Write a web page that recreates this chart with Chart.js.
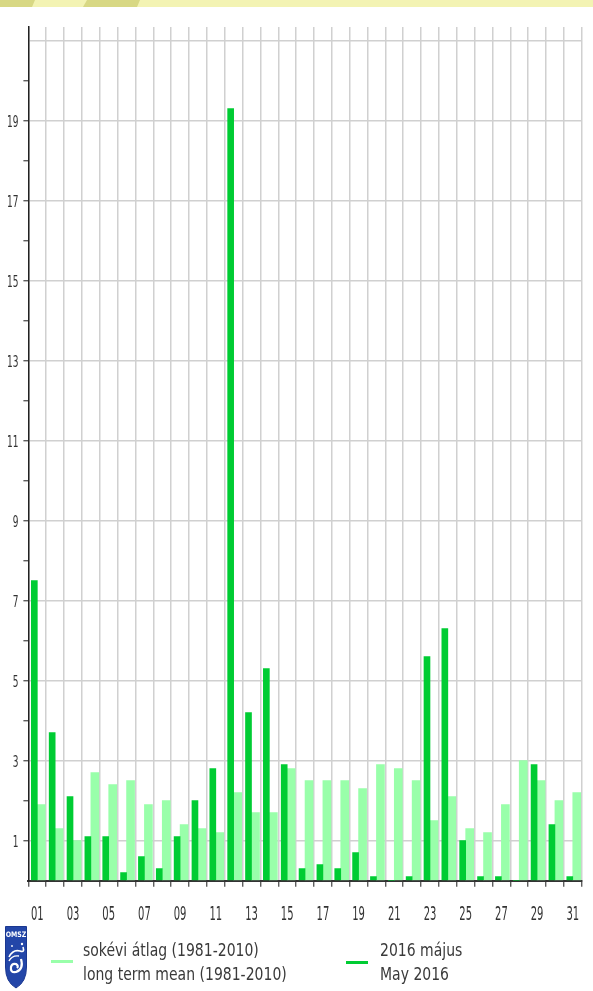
<!DOCTYPE html>
<html>
<head>
<meta charset="utf-8">
<script src="https://cdn.jsdelivr.net/npm/chart.js@4.4.1/dist/chart.umd.min.js"></script>
<style>
  html, body { margin: 0; padding: 0; background: #fff; }
  #wrap { position: relative; width: 593px; height: 991px; overflow: hidden; background: #fff; }
  #c { position: absolute; left: 0; top: 0; }
  .leg { position: absolute; font-family: "DejaVu Sans", Verdana, sans-serif; font-size: 14px;
         line-height: 17.6px; color: #3a3a3a; white-space: nowrap;
         transform: scaleY(1.32); transform-origin: 0 0; }
  .swatch { position: absolute; height: 3px; width: 22px; }
  #banner { position: absolute; left: 0; top: 0; }
  #logo { position: absolute; left: 4px; top: 925px; }
</style>
</head>
<body>
<div id="wrap">
  <svg id="banner" width="593" height="7" viewBox="0 0 593 7">
    <rect x="0" y="0" width="593" height="7" fill="#f3f3b3"/>
    <polygon points="0,0 35,0 32,7 0,7" fill="#d8d884"/>
    <polygon points="87,0 140,0 137,7 83,7" fill="#d8d884"/>
  </svg>
  <canvas id="c" width="593" height="991"></canvas>
  <svg id="logo" width="26" height="64" viewBox="0 0 26 64">
    <path d="M1.5,1.5 H22.5 V42 Q22.5,57 12,63 Q1.5,57 1.5,42 Z" fill="#2346a8" stroke="#1a3790" stroke-width="1"/>
    <text x="12" y="12" text-anchor="middle" font-family="DejaVu Sans, sans-serif" font-weight="bold" font-size="6.3" fill="#ffffff" transform="scale(1,1.2) translate(0,-2)">OMSZ</text>
    <path d="M5,32 Q9,24 16,26 Q21,28 19,22" fill="none" stroke="#ffffff" stroke-width="1.6"/>
    <path d="M17,34 Q20,44 12,47 Q6,48 7,42 Q8,38 12,39 Q15,41 13,43" fill="none" stroke="#ffffff" stroke-width="2.2"/>
    <path d="M5,36 Q8,30 15,31" fill="none" stroke="#ffffff" stroke-width="1.4"/>
    <circle cx="18" cy="19" r="1.2" fill="#ffffff"/>
    <circle cx="8" cy="21" r="0.9" fill="#ffffff"/>
  </svg>
  <div class="swatch" style="left:51px; top:960px; background:#99ffaa;"></div>
  <div class="leg" style="left:83px; top:938.7px;">sokévi átlag (1981-2010)<br>long term mean (1981-2010)</div>
  <div class="swatch" style="left:346px; top:961px; background:#00cc33;"></div>
  <div class="leg" style="left:380px; top:938.7px;">2016 május<br>May 2016</div>
</div>
<script>
// ---- data ----
const days = ['01','02','03','04','05','06','07','08','09','10','11','12','13','14','15','16',
              '17','18','19','20','21','22','23','24','25','26','27','28','29','30','31'];
const may2016 = [7.5,3.7,2.1,1.1,1.1,0.2,0.6,0.3,1.1,2.0,2.8,19.3,4.2,5.3,2.9,0.3,
                 0.4,0.3,0.7,0.1,0,0.1,5.6,6.3,1.0,0.1,0.1,0,2.9,1.4,0.1];
const longTermMean = [1.9,1.3,1.0,2.7,2.4,2.5,1.9,2.0,1.4,1.3,1.2,2.2,1.7,1.7,2.8,2.5,
                      2.5,2.5,2.3,2.9,2.8,2.5,1.5,2.1,1.3,1.2,1.9,3.0,2.5,2.0,2.2];
const xTickLabels = ['01','03','05','07','09','11','13','15','17','19','21','23','25','27','29','31'];
const yTickLabels = ['1','3','5','7','9','11','13','15','17','19'];
const yMax = 21.34;

const tickTextPlugin = {
  id: 'tickText',
  afterDraw(chart) {
    const ctx = chart.ctx;
    const xs = chart.scales.x, ys = chart.scales.y;
    ctx.save();
    ctx.fillStyle = '#333333';
    ctx.textBaseline = 'alphabetic';
    // x labels
    ctx.font = '10px "DejaVu Sans", Verdana, sans-serif';
    ctx.textAlign = 'center';
    xTickLabels.forEach(lab => {
      const px = xs.getPixelForValue(days.indexOf(lab));
      ctx.save();
      ctx.translate(px, xs.top + 39.5);
      ctx.scale(1, 1.9);
      ctx.fillText(lab, 0, 0);
      ctx.restore();
    });
    // y labels
    ctx.font = '9px "DejaVu Sans", Verdana, sans-serif';
    ctx.textAlign = 'right';
    yTickLabels.forEach(lab => {
      const py = ys.getPixelForValue(Number(lab));
      ctx.save();
      ctx.translate(ys.right - 10, py + 5.9);
      ctx.scale(1, 1.8);
      ctx.fillText(lab, 0, 0);
      ctx.restore();
    });
    ctx.restore();
  }
};

new Chart(document.getElementById('c'), {
  type: 'bar',
  data: {
    labels: days,
    datasets: [
      { label: '2016 május / May 2016', data: may2016, backgroundColor: '#00cc33',
        borderWidth: 0, barThickness: 6 },
      { label: 'sokévi átlag (1981-2010) / long term mean (1981-2010)', data: longTermMean,
        backgroundColor: '#99ffaa', borderWidth: 0, barThickness: 8 }
    ]
  },
  options: {
    responsive: false,
    animation: false,
    devicePixelRatio: 1,
    layout: { padding: { left: 0, right: 11.3, top: 27, bottom: 0 } },
    plugins: { legend: { display: false }, tooltip: { enabled: false }, title: { display: false } },
    scales: {
      x: {
        offset: true,
        grid: { display: true, offset: true, color: '#d0d0d0', lineWidth: 1.5,
                drawTicks: true, tickLength: 6, tickColor: '#444444', tickWidth: 1.2 },
        border: { display: true, color: '#333333', width: 2 },
        ticks: { display: false },
        afterFit: s => { s.height = 110.3; }
      },
      y: {
        min: 0, max: yMax,
        grid: {
          color: c => (c.tick && Math.abs(c.tick.value % 2 - 1) < 1e-6) ? '#d0d0d0' : 'rgba(0,0,0,0)',
          lineWidth: 1.5,
          drawTicks: true, tickLength: 5,
          tickColor: c => (c.tick && c.tick.value <= 20.001 && c.tick.value > 0.5) ? '#444444' : 'rgba(0,0,0,0)',
          tickWidth: 1.2
        },
        border: { display: true, color: '#222222', width: 1.5 },
        ticks: { display: false, stepSize: 1, includeBounds: false },
        afterFit: s => { s.width = 28.4; }
      }
    }
  },
  plugins: [tickTextPlugin]
});
</script>
</body>
</html>
